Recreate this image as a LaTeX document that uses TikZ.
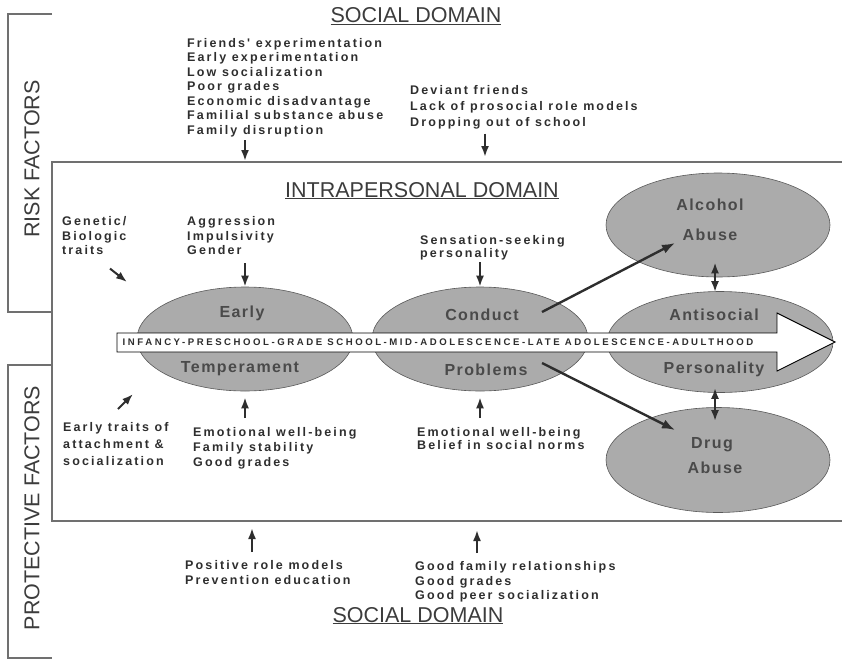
\documentclass[tikz,border=0pt]{standalone}
\usepackage{fontspec}
\setmainfont{Liberation Sans}
\newfontfamily\listfont[LetterSpace=17]{Liberation Sans}
\newfontfamily\stagefont[LetterSpace=9]{Liberation Sans}
\newfontfamily\agefont[LetterSpace=26.5]{Liberation Sans}
\usetikzlibrary{arrows.meta,calc,shapes.geometric}
\definecolor{ink}{HTML}{2E2E2E}
\definecolor{head}{HTML}{3C3C3C}
\definecolor{rule}{HTML}{707070}
\definecolor{shade}{HTML}{ABABAB}
\definecolor{stageink}{HTML}{4A4A4A}

\begin{document}
\begin{tikzpicture}[x=1pt,y=-1pt,
	factor/.style={font={\fontsize{12.5}{#1}\listfont\bfseries}, text=ink, align=left, anchor=north west, inner sep=0pt},
	factor/.default=14.5,
	headline/.style={font={\fontsize{21.5}{24}\selectfont}, text=head, anchor=base, inner sep=0pt},
	sidelabel/.style={font={\fontsize{21.5}{24}\selectfont}, text=head, rotate=90, inner sep=0pt},
	stage/.style={ellipse, fill=shade, draw=black!65, line width=0.6pt, inner sep=0pt},
	stagelabel/.style={font={\fontsize{16}{18}\stagefont\bfseries}, text=stageink, inner sep=0pt},
	push/.style={line width=2pt, draw=ink, -{Latex[length=11pt,width=8pt]}},
	lead/.style={line width=2.4pt, draw=ink, -{Latex[length=13pt,width=9.5pt]}},
	boxline/.style={draw=rule, line width=1.1pt}]
	\useasboundingbox (0,0) rectangle (842,661);

	% draw the risk and protective brackets
	\draw[boxline] (52,14) -- (8,14) -- (8,312) -- (52,312);
	\draw[boxline] (52,365) -- (8,365) -- (8,658) -- (52,658);
	\node[sidelabel] (risk) at (32,159) {RISK FACTORS};
	\node[sidelabel] (protect) at (32,508) {PROTECTIVE FACTORS};

	% draw the intrapersonal box, open to the right
	\draw[boxline] (842,162) -- (52,162) -- (52,521) -- (842,521);

	% the domain headings
	\node[headline] (socialtop) at (416,23) {\underline{SOCIAL DOMAIN}};
	\node[headline] (intra) at (422,197) {\underline{INTRAPERSONAL DOMAIN}};
	\node[headline] (socialbot) at (418,622) {\underline{SOCIAL DOMAIN}};

	% the stages as shaded ellipses
	\foreach \name/\cx/\cy/\w/\h in {
		early/245/339/216/104,
		conduct/480/339/216/104,
		alcohol/718/225/224/104,
		antisocial/720/342/226/101,
		drug/718/460/224/105}
		\node[stage, minimum width=\w, minimum height=\h] (\name) at (\cx,\cy) {};

	% the age arrow runs over the ellipses
	\draw[fill=white, line width=0.9pt] (117,333) -- (777,333) -- (777,313) -- (835,342)
		-- (777,371) -- (777,352) -- (117,352) -- cycle;
	\node[font={\fontsize{9.6}{11}\agefont\bfseries}, text=ink, inner sep=0pt] (ages) at (438,342.5)
		{INFANCY-PRESCHOOL-GRADE SCHOOL-MID-ADOLESCENCE-LATE ADOLESCENCE-ADULTHOOD};

	% words in the ellipses
	\foreach \name/\dx/\dy/\word in {
		early/-3/-26/Early,
		early/-5/30/Temperament,
		conduct/2/-24/Conduct,
		conduct/6/31/Problems,
		alcohol/-8/-20/Alcohol,
		alcohol/-8/10/Abuse,
		antisocial/-6/-27/Antisocial,
		antisocial/-6/27/Personality,
		drug/-6/-15/Drug,
		drug/-3/8/Abuse}
		\node[stagelabel] (\name-\word) at ($(\name.center)+(\dx,\dy)$) {\word};

	% social risk factors
	\node[factor] (risklist) at (187,38) {Friends' experimentation\\Early experimentation\\Low socialization\\Poor grades\\Economic disadvantage\\Familial substance abuse\\Family disruption};
	\node[factor=16] (devlist) at (410,85.5) {Deviant friends\\Lack of prosocial role models\\Dropping out of school};

	% intrapersonal risk factors
	\node[factor] (genetic) at (62,216.5) {Genetic/\\Biologic\\traits};
	\node[factor] (aggr) at (187,216.5) {Aggression\\Impulsivity\\Gender};
	\node[factor=12.5] (sens) at (420,235.5) {Sensation-seeking\\personality};

	% intrapersonal protective factors
	\node[factor=17] (attach) at (63,422.5) {Early traits of\\attachment \&\\socialization};
	\node[factor=15.3] (emo1) at (193,427) {Emotional well-being\\Family stability\\Good grades};
	\node[factor=13.5] (emo2) at (417,427) {Emotional well-being\\Belief in social norms};

	% social protective factors
	\node[factor=15] (pos) at (185,560.5) {Positive role models\\Prevention education};
	\node[factor] (fam) at (415,561.5) {Good family relationships\\Good grades\\Good peer socialization};

	% where the free arrows end
	\coordinate (riskarr) at (245,161);
	\coordinate (devarr) at (485,157);
	\coordinate (posarr) at (252,528);
	\coordinate (famarr) at (477,530);
	\coordinate (gentip) at (127,282);
	\coordinate (atttip) at (133,394);

	% arrows from the factors
	\draw[push, shorten <=3pt] (riskarr |- risklist.south) -- (riskarr);
	\draw[push, shorten <=4pt] (devarr |- devlist.south) -- (devarr);
	\draw[push, shorten <=8pt] (early.north |- aggr.south) -- (early.north);
	\draw[push, shorten <=2pt] (conduct.north |- sens.south) -- (conduct.north);
	\draw[push] ($(genetic.south west)+(48,13.5)$) -- (gentip);
	\draw[push] ($(attach.north west)+(55,-13.5)$) -- (atttip);
	\draw[push, shorten <=9pt, shorten >=6pt] (early.south |- emo1.north) -- (early.south);
	\draw[push, shorten <=9pt, shorten >=6pt] (conduct.south |- emo2.north) -- (conduct.south);
	\draw[push, shorten <=8.5pt] (posarr |- pos.north) -- (posarr);
	\draw[push, shorten <=8.5pt] (famarr |- fam.north) -- (famarr);

	% arrows between the stages
	\draw[lead] ($(conduct.center)+(62,-27)$) -- ($(alcohol.center)+(-43,18)$);
	\draw[lead] ($(conduct.center)+(62,24)$) -- ($(drug.center)+(-43,-30)$);
	\draw[lead, {Latex[length=11pt,width=8pt]}-{Latex[length=11pt,width=8pt]}] ($(alcohol.south)+(-3,-15)$) -- ($(antisocial.north)+(-5,1)$);
	\draw[lead, {Latex[length=11pt,width=8pt]}-{Latex[length=11pt,width=8pt]}] ($(antisocial.south)+(-5,-5)$) -- ($(drug.north)+(-3,14)$);
\end{tikzpicture}
\end{document}
